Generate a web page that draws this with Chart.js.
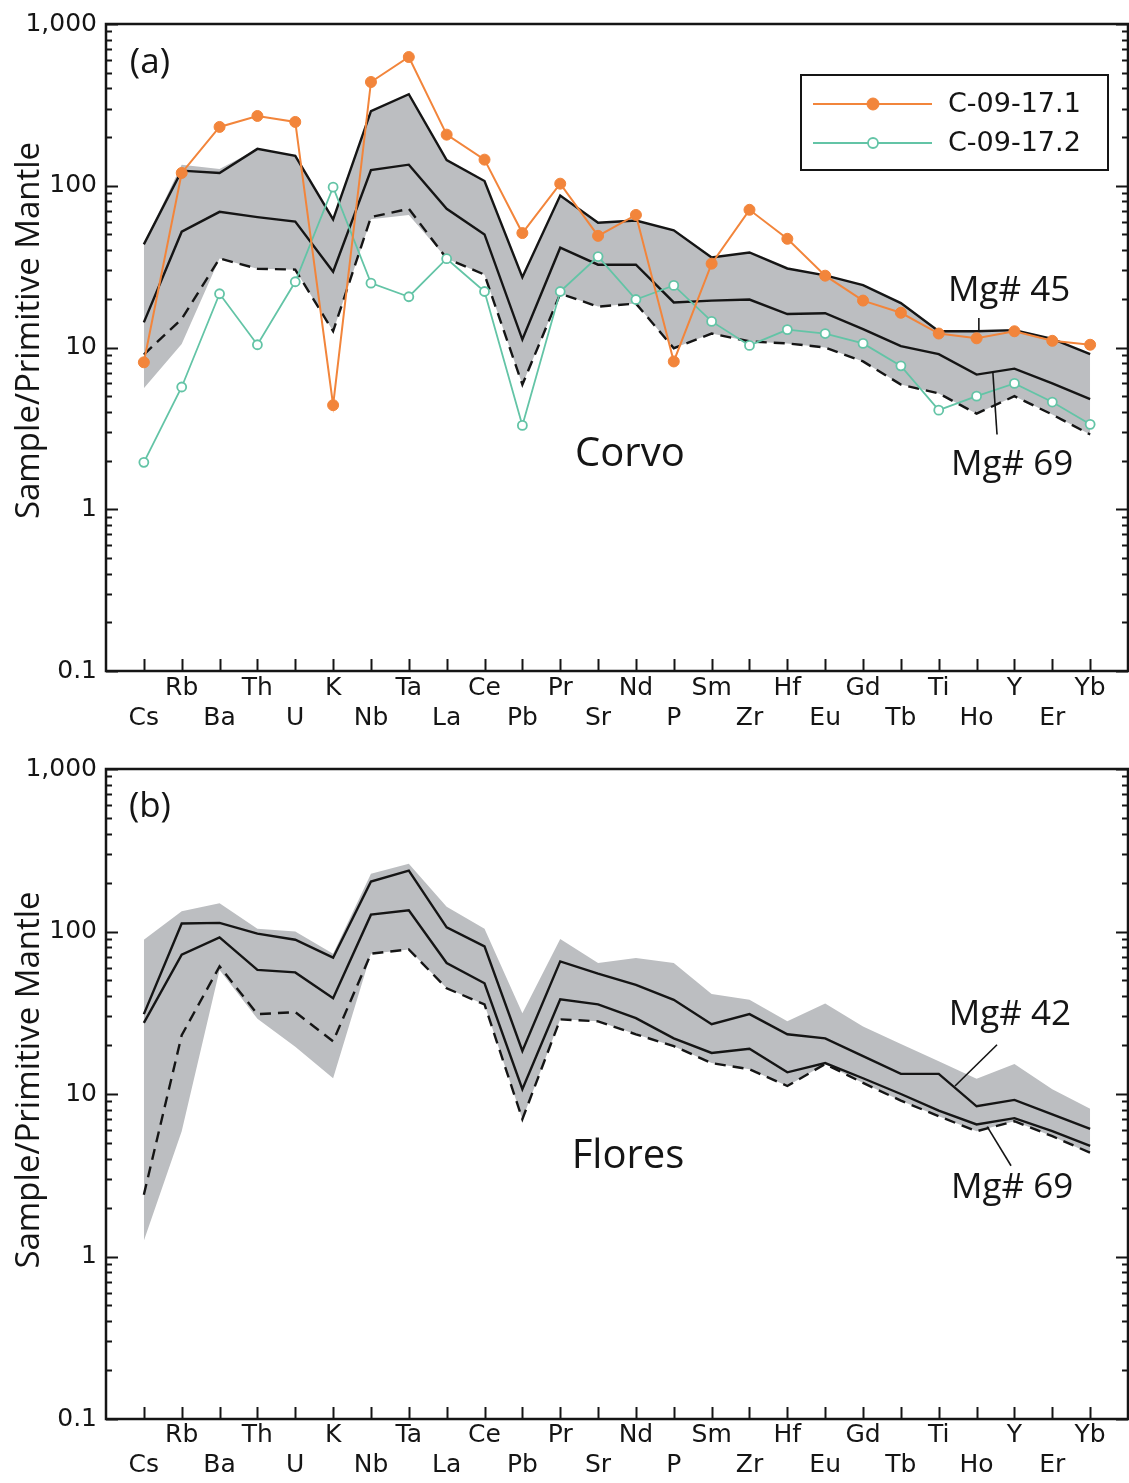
<!DOCTYPE html>
<html>
<head>
<meta charset="utf-8">
<title>Primitive-mantle normalised trace elements – Corvo and Flores</title>
<script src="https://cdn.jsdelivr.net/npm/chart.js@4.4.1/dist/chart.umd.min.js"></script>
<style>
  html, body { margin: 0; padding: 0; background: #ffffff; }
  #wrap { position: relative; width: 1129px; height: 1483px; overflow: hidden; }
  #wrap canvas { position: absolute; left: 0; }
</style>
</head>
<body>
<div id="wrap">
  <canvas id="corvo" width="1129" height="745" style="top:0px"></canvas>
  <canvas id="flores" width="1129" height="738" style="top:745px"></canvas>
</div>
<script>
// Element order along the x axis (incompatible -> compatible)
const elements = ['Cs', 'Rb', 'Ba', 'Th', 'U', 'K', 'Nb', 'Ta', 'La', 'Ce', 'Pb', 'Pr', 'Sr',
                  'Nd', 'P', 'Sm', 'Zr', 'Hf', 'Eu', 'Gd', 'Tb', 'Ti', 'Ho', 'Y', 'Er', 'Yb'];

// Log axis: labelled decades and the minor multipliers between them
const decadeTicks = [0.1, 1, 10, 100, 1000];
const decadeLabels = ['0.1', '1', '10', '100', '1,000'];
const minorSteps = [2, 3, 4, 5, 6, 7, 8, 9];

// ---- (a) Corvo ----
const corvoRangeHigh = [44, 135, 127, 169, 153, 62, 289, 368, 144, 107, 27.2, 87, 59, 61, 53, 36,
                        38.7, 30.8, 27.9, 24.3, 18.8, 12.6, 12.6, 12.8, 11.3, 9.1];
const corvoRangeLow  = [5.6, 10.5, 35.5, 30.7, 30.3, 12.6, 62, 66, 35.5, 28.2, 5.9, 21.5, 17.9, 18.7,
                        9.9, 12.2, 10.9, 10.6, 10.0, 8.2, 5.9, 5.2, 3.9, 5.0, 3.85, 2.9];
const corvoMg45      = [43.4, 124, 120, 169, 153, 62, 289, 368, 144, 107, 27.2, 87, 59, 61, 53, 36,
                        38.7, 30.8, 27.9, 24.3, 18.8, 12.6, 12.6, 12.8, 11.3, 9.1];
const corvoMg69      = [14.3, 52, 69, 64, 60, 29.4, 125, 135, 72, 50, 11.2, 41.4, 32.5, 32.5, 19, 19.5,
                        19.8, 16.1, 16.3, 13.0, 10.2, 9.1, 6.8, 7.4, 6.0, 4.8];
const corvoLowest    = [9.05, 15, 35.5, 30.7, 30.3, 12.6, 64, 72, 35.5, 28.2, 5.9, 21.5, 17.9, 18.7,
                        9.9, 12.2, 10.9, 10.6, 10.0, 8.2, 5.9, 5.2, 3.9, 5.0, 3.85, 2.9];
const sample171      = [8.1, 120, 231, 270, 248, 4.4, 438, 625, 207, 145, 51, 103, 49, 66, 8.2, 33,
                        71, 47, 27.8, 19.5, 16.4, 12.2, 11.4, 12.6, 11.0, 10.4];
const sample172      = [1.95, 5.7, 21.5, 10.4, 25.5, 98, 25, 20.6, 35.4, 22.2, 3.3, 22.2, 36.5, 19.8,
                        24.2, 14.5, 10.3, 12.9, 12.2, 10.6, 7.7, 4.1, 5.0, 6.0, 4.6, 3.35];

// ---- (b) Flores ----
const floresRangeHigh = [89, 133, 149, 104, 100, 73, 227, 261, 142, 104, 31.4, 90, 64, 68.7, 64, 41.3,
                         38, 28, 36, 26, 20.3, 15.9, 12.4, 15.3, 10.7, 8.1];
const floresRangeLow  = [1.25, 5.9, 58, 29, 19.5, 12.5, 73, 77.6, 44.7, 35.6, 7.0, 28.8, 28, 23.3,
                         19.7, 15.5, 14.2, 11.2, 15.3, 11.7, 9.1, 7.3, 5.9, 6.8, 5.5, 4.3];
const floresMg42      = [31, 112, 113, 97, 89, 69, 203, 237, 106, 81, 18.4, 65.5, 55, 47, 38, 26.9,
                         31, 23.3, 22, 17.1, 13.3, 13.3, 8.4, 9.2, 7.5, 6.1];
const floresMg69      = [27.4, 72, 92, 58, 56, 38.8, 127, 135, 64, 48, 10.7, 38.3, 35.6, 29.3, 22,
                         17.9, 19, 13.6, 15.5, 12.5, 10, 7.9, 6.5, 7.1, 5.9, 4.8];
const floresLowest    = [2.4, 23, 61, 31, 31.9, 21.1, 73, 77.6, 44.7, 35.6, 7.0, 28.8, 28, 23.3, 19.7,
                         15.5, 14.2, 11.2, 15.3, 11.7, 9.1, 7.3, 5.9, 6.8, 5.5, 4.35];

const INK = '#151515';
const GREY = '#bcbec1';
const ORANGE = '#f2853b';
const TEAL = '#63c4a6';
const TICK_FONT = "'DejaVu Sans', 'Liberation Sans', Arial, sans-serif";
const NOTE_FONT = "'Open Sans', 'Noto Sans', sans-serif";

const yTickValues = [];
decadeTicks.forEach((d, k) => {
  yTickValues.push(d);
  if (k < decadeTicks.length - 1) minorSteps.forEach(m => yTickValues.push(d * m));
});
function decadeIndex(v) {
  return decadeTicks.findIndex(d => Math.abs(d - v) < d * 1e-6);
}
function points(values) {
  return values.map((v, i) => ({ x: i, y: v }));
}
function bandSets(low, high) {
  return [
    { data: points(low), borderWidth: 0, pointRadius: 0, fill: false, order: 9 },
    { data: points(high), borderWidth: 0, pointRadius: 0, fill: '-1', backgroundColor: GREY, order: 8 }
  ];
}
function trendLine(values, dashed) {
  return { data: points(values), borderColor: INK, borderWidth: 2.4, borderDash: dashed ? [11, 7] : [],
           pointRadius: 0, fill: false, order: 5 };
}

// Frame, inward tick marks, axis title, notes and sample key
const panelDecor = {
  id: 'panelDecor',
  afterDatasetsDraw(chart, args, opts) {
    const { ctx, chartArea: ca, scales: { x, y } } = chart;
    ctx.save();
    ctx.strokeStyle = INK;
    ctx.lineCap = 'butt';

    // ticks on left and right sides of the log axis
    ctx.lineWidth = 2;
    y.ticks.forEach(t => {
      const py = Math.round(y.getPixelForValue(t.value)) + 0.5;
      const len = decadeIndex(t.value) >= 0 ? 12 : 6;
      ctx.beginPath();
      ctx.moveTo(ca.left, py); ctx.lineTo(ca.left + len, py);
      ctx.moveTo(ca.right, py); ctx.lineTo(ca.right - len, py);
      ctx.stroke();
    });
    // element ticks along the bottom
    x.ticks.forEach(t => {
      const px = Math.round(x.getPixelForValue(t.value)) + 0.5;
      ctx.beginPath();
      ctx.moveTo(px, ca.bottom); ctx.lineTo(px, ca.bottom - 12);
      ctx.stroke();
    });
    // plot frame
    ctx.lineWidth = 2.5;
    ctx.strokeRect(ca.left, ca.top, ca.right - ca.left, ca.bottom - ca.top);

    // axis title
    ctx.fillStyle = INK;
    ctx.font = `33px ${NOTE_FONT}`;
    ctx.textAlign = 'center';
    ctx.textBaseline = 'middle';
    ctx.save();
    ctx.translate(opts.titleX, (ca.top + ca.bottom) / 2 + opts.titleShift);
    ctx.rotate(-Math.PI / 2);
    ctx.fillText(opts.title, 0, 0);
    ctx.restore();

    // text notes placed in data coordinates
    opts.notes.forEach(n => {
      ctx.font = `${n.size}px ${NOTE_FONT}`;
      ctx.fillText(n.text, x.getPixelForValue(n.x), y.getPixelForValue(n.y));
    });
    // leader lines from labels to curves
    ctx.lineWidth = 1.6;
    opts.leaders.forEach(l => {
      ctx.beginPath();
      ctx.moveTo(x.getPixelForValue(l[0]), y.getPixelForValue(l[1]));
      ctx.lineTo(x.getPixelForValue(l[2]), y.getPixelForValue(l[3]));
      ctx.stroke();
    });

    // sample key
    const keyed = chart.data.datasets.filter(d => d.label);
    if (keyed.length) {
      const bx = ca.right - 327, by = ca.top + 51, bw = 307, bh = 95;
      ctx.fillStyle = '#ffffff';
      ctx.fillRect(bx, by, bw, bh);
      ctx.lineWidth = 2;
      ctx.strokeStyle = INK;
      ctx.strokeRect(bx, by, bw, bh);
      keyed.forEach((d, k) => {
        const ry = by + 29 + k * 39;
        ctx.strokeStyle = d.borderColor;
        ctx.lineWidth = d.borderWidth;
        ctx.beginPath();
        ctx.moveTo(bx + 12, ry); ctx.lineTo(bx + 131, ry);
        ctx.stroke();
        ctx.beginPath();
        ctx.arc(bx + 72, ry, d.pointRadius + 0.5, 0, Math.PI * 2);
        ctx.fillStyle = d.pointBackgroundColor;
        ctx.fill();
        ctx.lineWidth = d.pointBorderWidth;
        ctx.strokeStyle = d.pointBorderColor;
        ctx.stroke();
        ctx.fillStyle = INK;
        ctx.font = `27px ${TICK_FONT}`;
        ctx.textAlign = 'left';
        ctx.fillText(d.label, bx + 147, ry + 1);
      });
    }
    ctx.restore();
  }
};

function makePanel(canvasId, datasets, layout, decor) {
  return new Chart(document.getElementById(canvasId), {
    type: 'line',
    data: { datasets },
    plugins: [panelDecor],
    options: {
      responsive: false,
      animation: false,
      devicePixelRatio: 1,
      events: [],
      layout: { autoPadding: false, padding: { left: 0, right: 1, top: layout.top, bottom: 0 } },
      elements: { line: { tension: 0 } },
      plugins: {
        legend: { display: false },
        tooltip: { enabled: false },
        colors: { enabled: false },
        panelDecor: decor
      },
      scales: {
        x: {
          type: 'linear', min: -1, max: 26,
          grid: { display: false, drawTicks: false }, border: { display: false },
          afterBuildTicks: s => { s.ticks = elements.map((_, i) => ({ value: i })); },
          afterFit: s => { s.height = layout.xHeight; },
          ticks: {
            autoSkip: false, maxRotation: 0, minRotation: 0, padding: layout.xPad, color: INK,
            font: { family: TICK_FONT, size: 25, lineHeight: 1.2 },
            callback: v => {
              const i = Math.round(v);
              return i % 2 ? [elements[i]] : ['', elements[i]];
            }
          }
        },
        y: {
          type: 'logarithmic', min: 0.1, max: 1000,
          grid: { display: false, drawTicks: false }, border: { display: false },
          afterBuildTicks: s => { s.ticks = yTickValues.map(v => ({ value: v })); },
          afterFit: s => { s.width = 106; },
          ticks: {
            autoSkip: false, padding: 9, color: INK,
            font: { family: TICK_FONT, size: 25 },
            callback: v => { const k = decadeIndex(v); return k >= 0 ? decadeLabels[k] : ''; }
          }
        }
      }
    }
  });
}

makePanel('corvo', [
  ...bandSets(corvoRangeLow, corvoRangeHigh),
  trendLine(corvoMg45, false),
  trendLine(corvoMg69, false),
  trendLine(corvoLowest, true),
  { label: 'C-09-17.1', data: points(sample171), borderColor: ORANGE, borderWidth: 2, fill: false,
    pointRadius: 5.5, pointBackgroundColor: ORANGE, pointBorderColor: ORANGE, pointBorderWidth: 1, order: 1 },
  { label: 'C-09-17.2', data: points(sample172), borderColor: TEAL, borderWidth: 1.8, fill: false,
    pointRadius: 4.5, pointBackgroundColor: '#ffffff', pointBorderColor: TEAL, pointBorderWidth: 1.8, order: 2 }
], { top: 21, xHeight: 74, xPad: 2 }, {
  title: 'Sample/Primitive Mantle', titleX: 30, titleShift: -17,
  notes: [
    { text: '(a)', x: 0.16, y: 571, size: 35 },
    { text: 'Corvo', x: 12.84, y: 2.18, size: 40 },
    { text: 'Mg# 45', x: 22.86, y: 22.3, size: 35 },
    { text: 'Mg# 69', x: 22.94, y: 1.89, size: 35 }
  ],
  leaders: [
    [22.06, 15.2, 22.06, 12.6],
    [22.43, 7.0, 22.54, 2.9]
  ]
});

makePanel('flores', [
  ...bandSets(floresRangeLow, floresRangeHigh),
  trendLine(floresMg42, false),
  trendLine(floresMg69, false),
  trendLine(floresLowest, true)
], { top: 23, xHeight: 64, xPad: 1 }, {
  title: 'Sample/Primitive Mantle', titleX: 30, titleShift: -14,
  notes: [
    { text: '(b)', x: 0.16, y: 582, size: 35 },
    { text: 'Flores', x: 12.79, y: 4.12, size: 40 },
    { text: 'Mg# 42', x: 22.88, y: 30.7, size: 35 },
    { text: 'Mg# 69', x: 22.94, y: 2.62, size: 35 }
  ],
  leaders: [
    [22.54, 20.1, 21.43, 11.2],
    [22.28, 6.3, 22.91, 3.62]
  ]
});
</script>
</body>
</html>
